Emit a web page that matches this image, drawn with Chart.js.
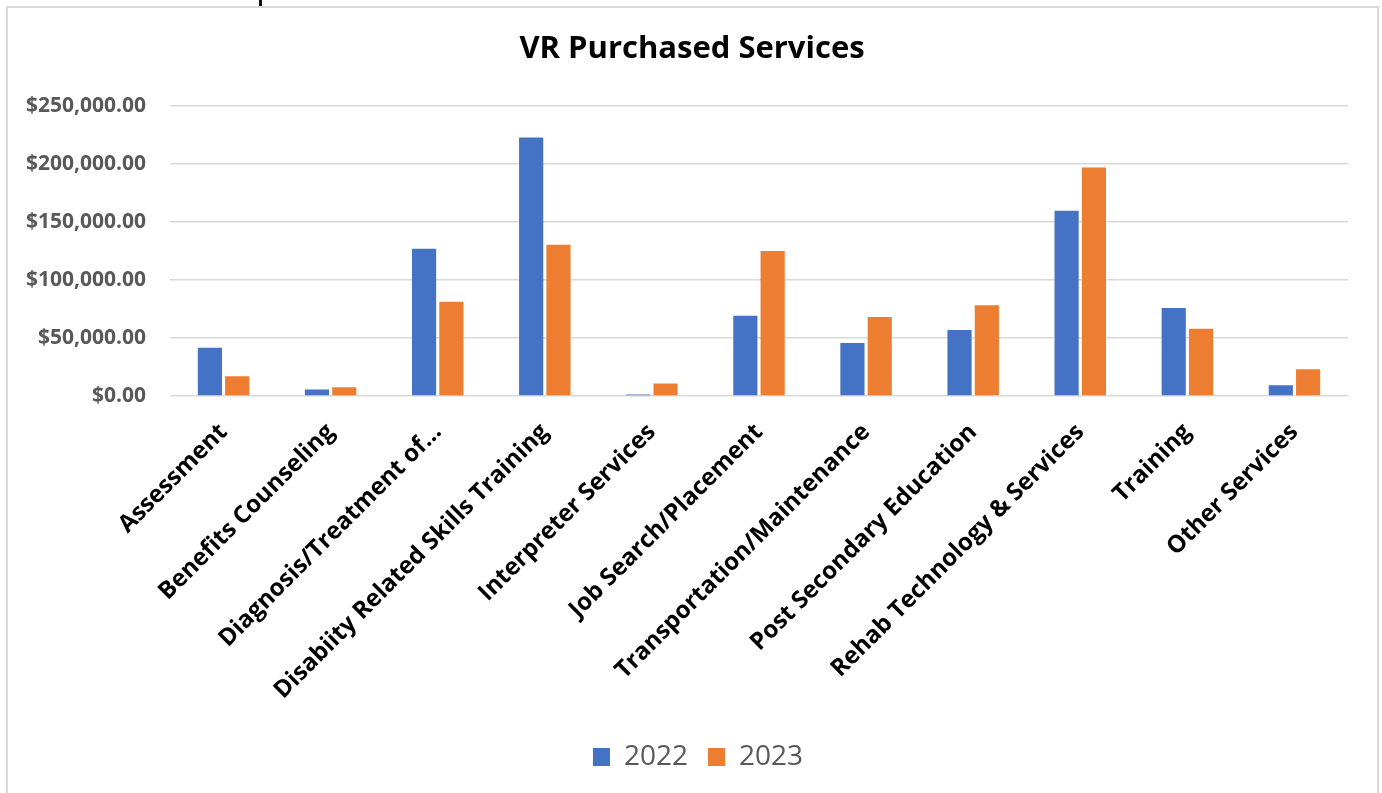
<!DOCTYPE html>
<html>
<head>
<meta charset="utf-8">
<title>VR Purchased Services</title>
<script src="https://cdn.jsdelivr.net/npm/chart.js@4.4.1/dist/chart.umd.min.js"></script>
<style>
  html, body { margin: 0; padding: 0; background: #fff; overflow: hidden; }
  #wrap { position: relative; width: 1382px; height: 793px; }
  #frame {
    position: absolute; left: 6px; top: 6px; width: 1369px; height: 800px;
    border: 2px solid #d9d9d9; pointer-events: none;
  }
  #stub { position: absolute; left: 259px; top: 0; width: 3px; height: 6px; background: #111; }
  canvas { position: absolute; left: 0; top: 0; }
</style>
</head>
<body>
<div id="wrap">
  <canvas id="servicesChart" width="1382" height="793"></canvas>
  <div id="frame"></div>
  <div id="stub"></div>
</div>
<script>
'use strict';

// Data
const categories = [
  'Assessment',
  'Benefits Counseling',
  'Diagnosis/Treatment of\u2026',
  'Disabiity Related Skills Training',
  'Interpreter Services',
  'Job Search/Placement',
  'Transportation/Maintenance',
  'Post Secondary Education',
  'Rehab Technology & Services',
  'Training',
  'Other Services'
];
const spend2022 = [41700, 5500, 127000, 223000, 1400, 69300, 45700, 56900, 159800, 75900, 9200];
const spend2023 = [17000, 7500, 81400, 130500, 10700, 125000, 68100, 78200, 197200, 58100, 23000];
const yTicks = [0, 50000, 100000, 150000, 200000, 250000];

const blue = '#4472C4';
const orange = '#ED7D31';
const gridColor = '#d9d9d9';

function money(v) {
  return v.toLocaleString('en-US', { style: 'currency', currency: 'USD' });
}

// title and legend are centred on the whole frame, not the padded area
const centerBoxes = {
  id: 'centerBoxes',
  afterLayout(chart) {
    const lg = chart.legend;
    const h = lg.bottom - lg.top;
    lg.top = 752 - h / 2;
    lg.bottom = lg.top + h;
    lg.left += 20;
    lg.right += 20;

    const tb = chart.titleBlock;
    tb.left += 14;
    tb.right += 14;
  }
};

const ctx = document.getElementById('servicesChart').getContext('2d');

const servicesChart = new Chart(ctx, {
  type: 'bar',
  data: {
    labels: categories,
    datasets: [{
      label: '2022',
      data: spend2022,
      backgroundColor: blue,
      categoryPercentage: 0.51,
      barPercentage: 0.885
    }, {
      label: '2023',
      data: spend2023,
      backgroundColor: orange,
      categoryPercentage: 0.51,
      barPercentage: 0.885
    }]
  },
  options: {
    responsive: false,
    animation: false,
    layout: {
      padding: { left: 8, right: 34, top: 8, bottom: 0 }
    },
    plugins: {
      title: {
        display: true,
        text: 'VR Purchased Services',
        color: '#000',
        font: { family: 'Open Sans', size: 31, weight: 'bold' },
        padding: { top: 23, bottom: 38 }
      },
      legend: {
        position: 'bottom',
        labels: {
          color: '#595959',
          font: { family: 'Open Sans', size: 28 },
          boxWidth: 17,
          boxHeight: 18,
          padding: 20
        }
      },
      tooltip: { enabled: false }
    },
    scales: {
      x: {
        grid: { display: false },
        border: { display: false },
        ticks: {
          color: '#000',
          font: { family: 'Open Sans', size: 24, weight: 'bold' },
          minRotation: 45,
          maxRotation: 45,
          autoSkip: false,
          padding: 14
        },
        afterFit(scale) {
          scale.height = scale.chart.height - scale.chart.legend.height - 396;
        }
      },
      y: {
        min: 0,
        max: 250000,
        border: { display: false },
        grid: { color: gridColor, lineWidth: 1.5, drawTicks: false },
        ticks: {
          color: '#595959',
          font: { family: 'Open Sans', size: 21, weight: 'bold' },
          padding: 24,
          callback: (v) => money(v)
        },
        afterBuildTicks(scale) {
          scale.ticks = yTicks.map((v) => ({ value: v }));
        },
        afterFit(scale) {
          scale.width = 162;
        }
      }
    }
  },
  plugins: [centerBoxes]
});
</script>
</body>
</html>
